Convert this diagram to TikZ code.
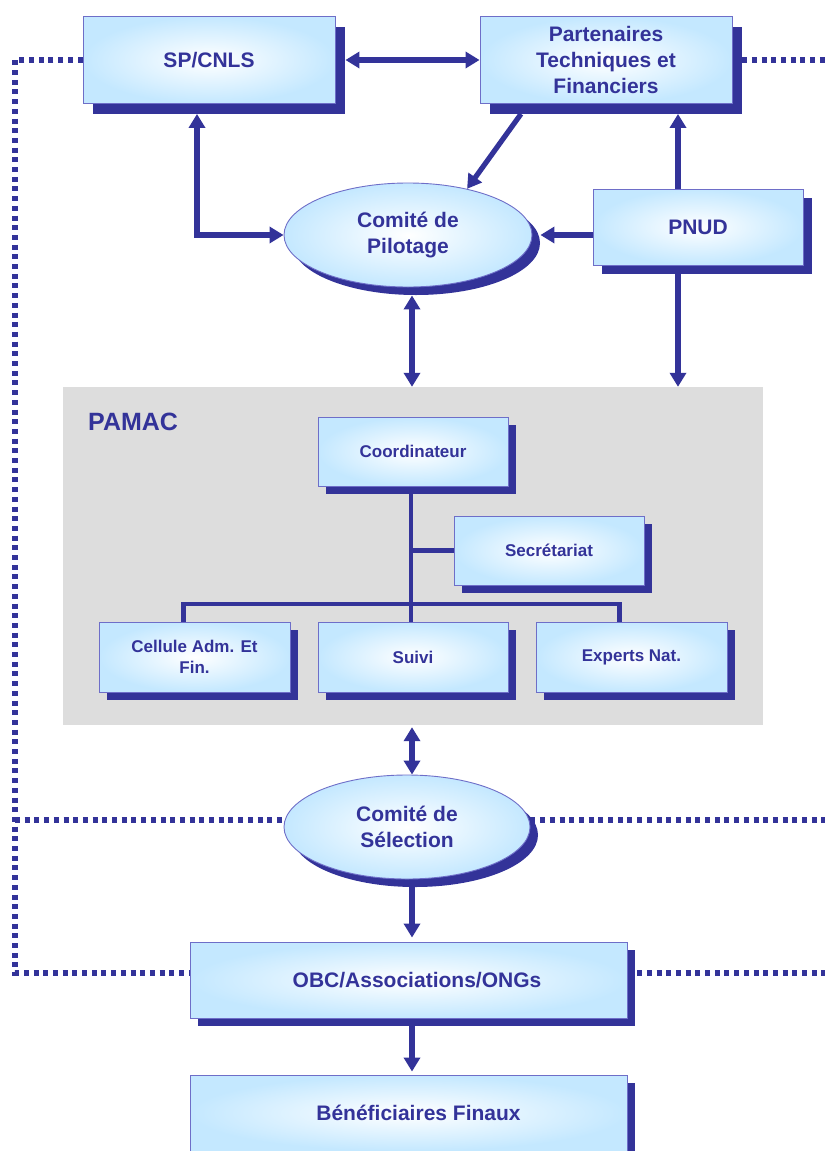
\documentclass[tikz,border=0pt]{standalone}
\usepackage{fontspec}
\setmainfont{Liberation Sans}
\usetikzlibrary{shapes.geometric,arrows.meta,shadows,calc}
\definecolor{dblue}{RGB}{51,51,153}
\definecolor{boxblue}{RGB}{196,232,255}
\definecolor{boxline}{RGB}{110,110,200}
\definecolor{pgray}{RGB}{221,221,221}
\pgfdeclarelayer{bg}
\pgfdeclarelayer{mid}
\pgfsetlayers{bg,mid,main}
\begin{document}
\begin{tikzpicture}[x=1pt,y=-1pt,
  box/.style={draw=boxline, line width=0.9pt, inner color=white, outer color=boxblue,
    text=dblue, align=center, inner sep=2pt, font=\bfseries\fontsize{21}{26}\selectfont},
  small/.style={font=\bfseries\fontsize{17}{21}\selectfont},
  myshadow/.style={drop shadow={shadow xshift=#1, shadow yshift=-#1, fill=dblue, opacity=1}},
  arr/.style={draw=dblue, line width=5.2pt},
  >={Triangle[length=14pt,width=16pt]},
  dotline/.style={draw=dblue, line width=5.2pt, dash pattern=on 5pt off 4.7pt},
  treeline/.style={draw=dblue, line width=4.6pt}]
\useasboundingbox (0,0) rectangle (825,1151);

% PAMAC background
\begin{pgfonlayer}{bg}
\node[fill=pgray, minimum width=700pt, minimum height=338pt, inner sep=0pt] (pamac) at (413,556) {};
\end{pgfonlayer}
\node[text=dblue, font=\bfseries\fontsize{25}{30}\selectfont, anchor=west, inner sep=0pt] (pamaclabel) at (88,422) {PAMAC};

% top level
\node[box, myshadow=10pt, minimum width=252pt, minimum height=87pt] (sp) at (209,60) {SP/CNLS};
\node[box, myshadow=10pt, minimum width=252pt, minimum height=87pt] (ptf) at (606,60) {Partenaires\\Techniques et\\Financiers};
\node[box, myshadow=9pt, minimum width=210pt, minimum height=76pt] (pnud) at (698,227) {PNUD};
\node[box, ellipse, myshadow=8pt, minimum width=248pt, minimum height=104pt, inner sep=0pt] (pil) at (408,235) {Comité de\\Pilotage};

% PAMAC inner
\node[box, small, myshadow=8pt, minimum width=190pt, minimum height=69pt] (coord) at (413,451.5) {Coordinateur};
\node[box, small, myshadow=8pt, minimum width=190pt, minimum height=69pt] (sec) at (549,550.5) {Secrétariat};
\node[box, small, myshadow=8pt, minimum width=191pt, minimum height=70pt] (cell) at (194.5,657) {Cellule Adm. Et\\Fin.};
\node[box, small, myshadow=8pt, minimum width=190pt, minimum height=70pt] (suivi) at (413,657) {Suivi};
\node[box, small, myshadow=8pt, minimum width=191pt, minimum height=70pt] (exp) at (631.5,657) {Experts Nat.};

% lower
\node[box, ellipse, myshadow=8pt, minimum width=246pt, minimum height=104pt, inner sep=0pt] (sel) at (407,827) {Comité de\\Sélection};
\node[box, myshadow=8pt, minimum width=437pt, minimum height=76pt] (obc) at (408.5,980) {\hspace*{17pt}OBC/Associations/ONGs};
\node[box, myshadow=8pt, minimum width=437pt, minimum height=76pt] (ben) at (408.5,1113) {\hspace*{20pt}Bénéficiaires Finaux};

% dotted lines
\coordinate (lt) at (15,60);
\coordinate (lm) at (15,820);
\coordinate (lb) at (15,973);
\coordinate (rt) at (825,60);
\coordinate (rm) at (825,820);
\coordinate (rb) at (825,973);
\coordinate (bus) at (411,604);
\begin{pgfonlayer}{mid}
\draw[dotline] (sp.west) -- (lt) -- (lb) -- (obc.west |- lb);
\draw[dotline] (lm) -- (sel.west |- lm);
\draw[dotline] (ptf.east) -- (rt);
\draw[dotline] (sel.east |- rm) -- (rm);
\draw[dotline] (obc.east |- rb) -- (rb);
% tree
\draw[treeline] ([xshift=-2pt]coord.south) -- ([xshift=-2pt]suivi.north);
\draw[treeline] (bus |- sec.west) -- (sec.west);
\draw[treeline] ([xshift=-11pt]cell.north) |- (bus) -| ([xshift=-12pt]exp.north);
\end{pgfonlayer}

% arrows
\draw[arr,<->] ([xshift=10pt]sp.east) -- (ptf.west);
\draw[arr,<->] ($(sp.south)+(-12,10)$) |- (pil.west);
\draw[arr,->] ($(ptf.south)+(-85,10)$) -- (pil.38);
\coordinate (px) at ($(pnud.north)+(-20,0)$);
\draw[arr,->] (px) -- ($(px |- ptf.south)+(0,10)$);
\draw[arr,->] (pnud.west |- pil.east) -- ($(pil.east)+(8,0)$);
\draw[arr,->] ($(px |- pnud.south)+(0,9)$) -- (px |- pamac.north);
\coordinate (cx) at ($(pil.south)+(4,8)$);
\draw[arr,<->] (cx) -- (cx |- pamac.north);
\coordinate (sx) at ($(sel.north)+(5,0)$);
\draw[arr,<->, shorten <=2pt] (sx |- pamac.south) -- (sx);
\draw[arr,->, shorten >=4pt] ($(sx |- sel.south)+(0,8)$) -- (sx |- obc.north);
\draw[arr,->, shorten >=3pt] ($(sx |- obc.south)+(0,8)$) -- (sx |- ben.north);
\end{tikzpicture}
\end{document}
